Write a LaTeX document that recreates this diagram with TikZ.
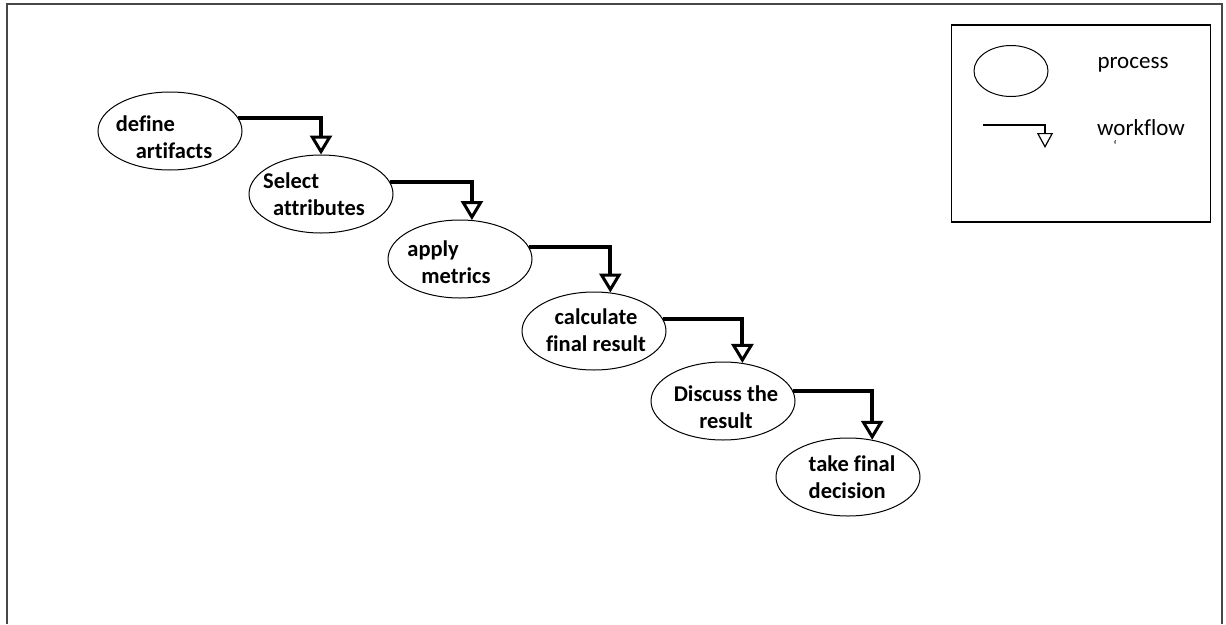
\documentclass[tikz,border=0pt]{standalone}
\usepackage{fontspec}
\setmainfont[Ligatures={NoCommon}]{Carlito}
\usetikzlibrary{arrows.meta,shapes.geometric}
\begin{document}
\begin{tikzpicture}[x=1pt,y=-1pt,
  proc/.style={draw=black, line width=1pt, ellipse, minimum width=144pt, minimum height=78pt, inner sep=0pt},
  lbl/.style={font=\fontsize{22.5}{27}\selectfont\bfseries, inner sep=0pt, align=left},
  lblc/.style={lbl, align=center},
  flow/.style={line width=4pt, -{Triangle[open, length=19pt, width=22pt, line width=3pt]}},
  legflow/.style={line width=1.2pt, -{Triangle[open, length=15pt, width=16pt, line width=1.2pt]}},
  legtext/.style={font=\fontsize{23}{27}\selectfont, inner sep=0pt},
]
\useasboundingbox (0,0) rectangle (1226,624);
% outer frame (open at the bottom)
\draw[black!72, line width=2pt] (7,624) -- (7,4) -- (1222,4) -- (1222,624);

% process ellipses
\node[proc] (e1) at (170,131) {};
\node[proc] (e2) at (321,194) {};
\node[proc] (e3) at (460,259) {};
\node[proc] (e4) at (594,331) {};
\node[proc] (e5) at (723,401) {};
\node[proc] (e6) at (848,477) {};

% process labels
\node[lbl]  (t1) at (164,137) {define\\\hspace*{20pt}artifacts};
\node[lbl]  (t2) at (314,194) {Select\\\hspace*{10pt}attributes};
\node[lbl]  (t3) at (449,262) {apply\\\hspace*{14pt}metrics};
\node[lblc] (t4) at (596,330) {calculate\\final result};
\node[lblc] (t5) at (726,407) {Discuss the\\result};
\node[lbl]  (t6) at (852,477) {take final\\decision};

% workflow connectors
\draw[flow] (e1.11) -| (e2.north);
\draw[flow] (e2.10) -| (e3.73);
\draw[flow] (e3.10) -| (e4.67);
\draw[flow] (e4.10) -| (e5.63);
\draw[flow] (e5.8)  -| (e6.57);

% legend
\node[draw=black, line width=1.5pt, minimum width=259pt, minimum height=197pt, inner sep=0pt] (legend) at (1081,123.5) {};
\node[draw=black, line width=1pt, ellipse, minimum width=74pt, minimum height=51pt, inner sep=0pt] (le) at (1011,71) {};
\node[legtext] (lp) at (1133,65) {process};
\coordinate (ls) at (983,125);
\coordinate (lt) at (1045,148);
\draw[legflow] (ls) -| (lt);
\node[legtext] (lw) at (1141,128) {workflow};
\node[legtext, font=\fontsize{14}{14}\selectfont] (tick) at (1115,145) {\char"60};
\end{tikzpicture}
\end{document}
